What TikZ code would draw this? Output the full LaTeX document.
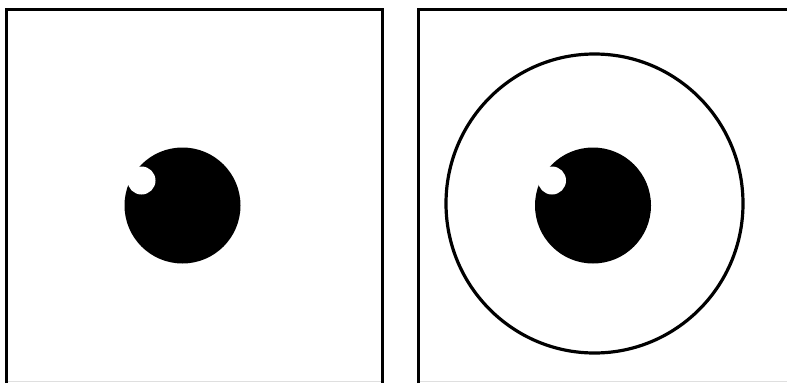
\documentclass[tikz,border=0pt]{standalone}
\begin{document}
\begin{tikzpicture}[x=1pt,y=-1pt,
  frame/.style={line width=3pt,black},
  ring/.style={line width=3.2pt,black},
  pupil/.style={fill=black},
  glint/.style={fill=white}]
\useasboundingbox (0,0) rectangle (787,383);
% left panel
\draw[frame] (6.5,383) -- (6.5,9.5) -- (382.3,9.5) -- (382.3,383);
% right panel
\draw[frame] (418,383) -- (418,9.5) -- (787,9.5);
% faint bottom trim
\draw[gray!25,line width=0.8pt] (8,381) -- (381,381);
\draw[gray!25,line width=0.8pt] (420,381) -- (787,381);
% left eye
\fill[pupil] (182.5,205.5) circle (58);
\fill[glint] (141.5,180.5) circle (14);
% right eye
\draw[ring] (594.5,203.5) ellipse (148.5 and 149.5);
\fill[pupil] (593,205.5) circle (58);
\fill[glint] (552,180.5) circle (14);
\end{tikzpicture}
\end{document}
